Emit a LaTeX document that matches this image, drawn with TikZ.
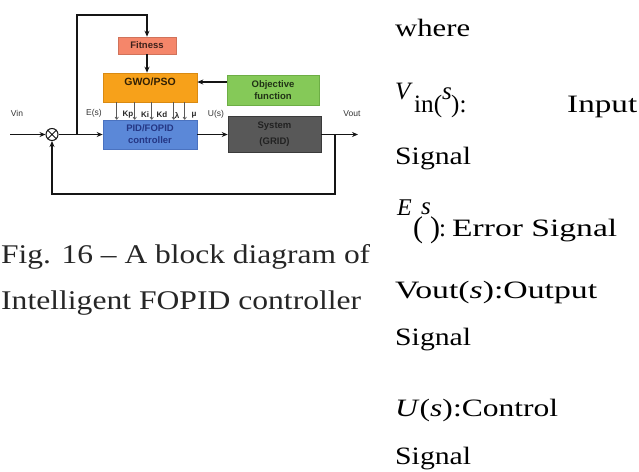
\documentclass[tikz,border=0pt]{standalone}
\usepackage{fontspec}
\setmainfont{Liberation Serif}
\setsansfont{Liberation Sans}
\usetikzlibrary{arrows.meta,calc}
\definecolor{fitc}{HTML}{F5866A}
\definecolor{gwoc}{HTML}{F7A11A}
\definecolor{gwob}{HTML}{D98A12}
\definecolor{objc}{HTML}{85C958}
\definecolor{objb}{HTML}{6DAE45}
\definecolor{pidc}{HTML}{5B88D8}
\definecolor{pidb}{HTML}{4A72C0}
\definecolor{sysc}{HTML}{585858}
\definecolor{sysb}{HTML}{3A3A3A}
\definecolor{syst}{HTML}{222222}
\definecolor{wirec}{HTML}{151515}
\newcommand{\fitto}[2]{\resizebox{#1}{\height}{#2}}
\begin{document}
\begin{tikzpicture}[x=1pt,y=-1pt,
  blk/.style={draw, line width=0.6pt, inner sep=0pt, align=center,
    font=\sffamily\bfseries\fontsize{9.5}{11}\selectfont},
  wire/.style={draw=wirec, line width=1.5pt},
  arr/.style={-{Stealth[length=6pt,width=5pt]}},
  karrow/.style={draw=black!65, line width=0.7pt, -{To[length=3pt,width=4pt]}},
  klab/.style={font=\sffamily\bfseries\fontsize{8}{9}\selectfont, text=black!85, inner sep=0pt},
  sig/.style={font=\sffamily\fontsize{8.5}{10}\selectfont, text=black!80, inner sep=0pt},
  body/.style={anchor=base west, inner sep=0pt, font=\fontsize{25}{28}\selectfont},
  capt/.style={anchor=base west, inner sep=0pt, font=\fontsize{27}{30}\selectfont, text=black!85}]
\useasboundingbox (0,0) rectangle (639,471);

% blocks
\node[blk, fill=fitc, draw=fitc!85!black, minimum width=58, minimum height=17, text=black!75!fitc] (fit) at (147,45.5) {Fitness};
\node[blk, fill=gwoc, draw=gwob, minimum width=94, minimum height=29] (gwo) at (150,87.5) {};
\node[font=\sffamily\bfseries\fontsize{10.5}{12}\selectfont, text=black!80!gwoc, inner sep=0pt] (gwot) at (150,82) {GWO/PSO};
\node[blk, fill=objc, draw=objb, minimum width=92, minimum height=30, text=black!75!objc] (obj) at (273,90.5) {Objective\\[1pt]function};
\node[blk, fill=pidc, draw=pidb, minimum width=94, minimum height=29, text=black!70!blue!60!pidc] (pid) at (150,134.5) {PID/FOPID\\[1pt]controller};
\node[blk, fill=sysc, draw=sysb, minimum width=93, minimum height=36, text=syst] (sys) at (274.5,134.5) {System\\[5pt](GRID)};
\node[circle, draw=wirec, line width=1pt, minimum size=12, inner sep=0pt] (sum) at (52,134.5) {};
\draw[wirec, line width=1pt] (sum.north east) -- (sum.south west) (sum.north west) -- (sum.south east);

% coordinates
\coordinate (vinpt) at (10,134.5);
\coordinate (j1) at (77,134.5);
\coordinate (top) at (77,15);
\coordinate (j2) at (335,134.5);
\coordinate (voutpt) at (358,134.5);
\coordinate (bot) at (335,194);

% connectors
\draw[wire, arr] (vinpt) -- (sum);
\draw[wire, arr] (sum) -- (pid);
\draw[wire, arr] (j1) -- (top) -| (fit.north);
\draw[wirec, line width=2pt, arr] (fit.south) -- (fit.south |- gwo.north);
\draw[wire, arr] (obj.west |- gwot) -- (gwo.east |- gwot);
\draw[wire, arr] (pid.east) -- (sys.west);
\draw[wire, arr] (sys.east) -- (voutpt);
\draw[wire, arr] (j2) -- (bot) -| (sum.south);
\foreach \xs in {14,32,49,71,82}{
  \draw[karrow] ([xshift=\xs pt]gwo.south west) -- ([xshift=\xs pt]pid.north west);
}

% labels
\node[klab] (kp) at (128,115) {Kp};
\node[klab] (ki) at (145,115) {Ki};
\node[klab] (kd) at (162,115) {Kd};
\node[klab] (kl) at (177,115) {λ};
\node[klab] (km) at (194,115) {μ};
\node[sig] (lvin) at (17,113) {Vin};
\node[sig] (les) at (94,113) {E(s)};
\node[sig] (lus) at (216,114) {U(s)};
\node[sig] (lvout) at (352,114) {Vout};

% caption
\node[capt] (cap1) at (1,263) {\fitto{369pt}{Fig. 16 – A block diagram of}};
\node[capt] (cap2) at (1,309.5) {\fitto{360pt}{Intelligent FOPID controller}};

% right column
\node[body] (where) at (395,36) {\fitto{75pt}{where}};
\node[body, font=\fontsize{25}{28}\selectfont\itshape] (vv) at (395,99) {V};
\node[body] (vin1) at (414,112) {\fitto{28pt}{in(}};
\node[body, font=\fontsize{25}{28}\selectfont\itshape] (vs) at (442,99) {s};
\node[body] (vcl) at (451,112) {):};
\node[body] (inp) at (567,112) {\fitto{70pt}{Input}};
\node[body] (sig1) at (395,164) {\fitto{76pt}{Signal}};
\node[body, font=\fontsize{24}{28}\selectfont\itshape] (ee) at (397,215) {E};
\node[body, font=\fontsize{30}{32}\selectfont] (eop) at (413,237) {(};
\node[body, font=\fontsize{25}{28}\selectfont\itshape] (es) at (421,214) {s};
\node[body, font=\fontsize{30}{32}\selectfont] (ecl) at (430,237) {)};
\node[body] (ecol) at (439,236) {:};
\node[body] (err) at (452,236) {\fitto{165pt}{Error Signal}};
\node[body] (vout) at (395,298) {\fitto{202pt}{Vout(\textit{s}):Output}};
\node[body] (sig2) at (395,345) {\fitto{76pt}{Signal}};
\node[body] (uu) at (395,416) {\fitto{163pt}{\textit{U}(\textit{s}):Control}};
\node[body] (sig3) at (395,464) {\fitto{76pt}{Signal}};
\end{tikzpicture}
\end{document}
